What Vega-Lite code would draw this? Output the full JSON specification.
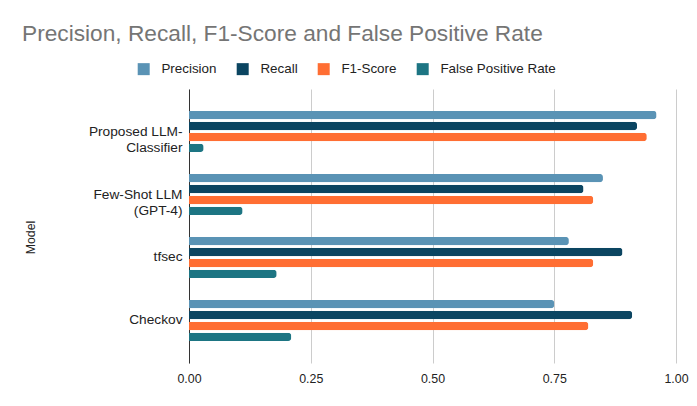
{
  "$schema": "https://vega.github.io/schema/vega-lite/v6.json",
  "width": 487,
  "height": 274,
  "autosize": {"type": "none"},
  "padding": {"left": 189, "top": 89, "right": 21, "bottom": 43},
  "background": "white",
  "title": {
    "text": "Precision, Recall, F1-Score and False Positive Rate",
    "anchor": "start",
    "frame": "group",
    "dx": -167,
    "offset": -2,
    "baseline": "alphabetic",
    "font": "Liberation Sans, Arial, sans-serif",
    "fontSize": 22.7,
    "fontWeight": "normal",
    "color": "#757575"
  },
  "config": {
    "font": "Liberation Sans, Arial, sans-serif",
    "view": {"stroke": null}
  },
  "data": {
    "values": [
      {"Model": "Proposed LLM-Classifier", "Metric": "Precision", "Value": 0.96},
      {"Model": "Proposed LLM-Classifier", "Metric": "Recall", "Value": 0.92},
      {"Model": "Proposed LLM-Classifier", "Metric": "F1-Score", "Value": 0.94},
      {"Model": "Proposed LLM-Classifier", "Metric": "False Positive Rate", "Value": 0.03},
      {"Model": "Few-Shot LLM (GPT-4)", "Metric": "Precision", "Value": 0.85},
      {"Model": "Few-Shot LLM (GPT-4)", "Metric": "Recall", "Value": 0.81},
      {"Model": "Few-Shot LLM (GPT-4)", "Metric": "F1-Score", "Value": 0.83},
      {"Model": "Few-Shot LLM (GPT-4)", "Metric": "False Positive Rate", "Value": 0.11},
      {"Model": "tfsec", "Metric": "Precision", "Value": 0.78},
      {"Model": "tfsec", "Metric": "Recall", "Value": 0.89},
      {"Model": "tfsec", "Metric": "F1-Score", "Value": 0.83},
      {"Model": "tfsec", "Metric": "False Positive Rate", "Value": 0.18},
      {"Model": "Checkov", "Metric": "Precision", "Value": 0.75},
      {"Model": "Checkov", "Metric": "Recall", "Value": 0.91},
      {"Model": "Checkov", "Metric": "F1-Score", "Value": 0.82},
      {"Model": "Checkov", "Metric": "False Positive Rate", "Value": 0.21}
    ]
  },
  "mark": {"type": "bar", "cornerRadiusEnd": 3},
  "encoding": {
    "y": {
      "field": "Model",
      "type": "nominal",
      "sort": ["Proposed LLM-Classifier", "Few-Shot LLM (GPT-4)", "tfsec", "Checkov"],
      "scale": {"paddingInner": 0, "paddingOuter": 0.175},
      "axis": {
        "title": "Model",
        "titleFont": "Liberation Sans, Arial, sans-serif",
        "titleFontSize": 12.3,
        "titleFontWeight": "normal",
        "titleColor": "#222222",
        "titleX": -159,
        "titleY": 148,
        "titleAngle": -90,
        "titleAlign": "center",
        "titleBaseline": "middle",
        "ticks": false,
        "grid": false,
        "domain": true,
        "domainColor": "#333333",
        "domainWidth": 1,
        "labelFontSize": 13.7,
        "labelColor": "#222222",
        "labelPadding": 7,
        "labelLineHeight": 16,
        "labelBaseline": "middle",
        "labelLimit": 300,
        "labelExpr": "datum.label == 'Proposed LLM-Classifier' ? ['Proposed LLM-', 'Classifier'] : datum.label == 'Few-Shot LLM (GPT-4)' ? ['Few-Shot LLM', '(GPT-4)'] : datum.label"
      }
    },
    "yOffset": {
      "field": "Metric",
      "type": "nominal",
      "sort": ["Precision", "Recall", "F1-Score", "False Positive Rate"],
      "scale": {"paddingInner": 0.23, "paddingOuter": 1.33}
    },
    "x": {
      "field": "Value",
      "type": "quantitative",
      "scale": {"domain": [0, 1], "nice": false},
      "axis": {
        "title": null,
        "values": [0, 0.25, 0.5, 0.75, 1],
        "format": ".2f",
        "domain": false,
        "ticks": false,
        "grid": true,
        "gridColor": "#cccccc",
        "gridWidth": 1,
        "labelFontSize": 12.4,
        "labelColor": "#222222",
        "labelPadding": 9,
        "labelFlush": false
      }
    },
    "color": {
      "field": "Metric",
      "type": "nominal",
      "scale": {
        "domain": ["Precision", "Recall", "F1-Score", "False Positive Rate"],
        "range": ["#5a93b5", "#0b4561", "#ff6e33", "#1d7583"]
      },
      "legend": {
        "title": null,
        "orient": "none",
        "direction": "horizontal",
        "legendX": -52,
        "legendY": -27,
        "padding": 0,
        "symbolType": "square",
        "symbolSize": 144,
        "symbolStrokeWidth": 0,
        "labelFontSize": 13.4,
        "labelColor": "#222222",
        "labelOffset": 11,
        "columnPadding": 19
      }
    }
  }
}
